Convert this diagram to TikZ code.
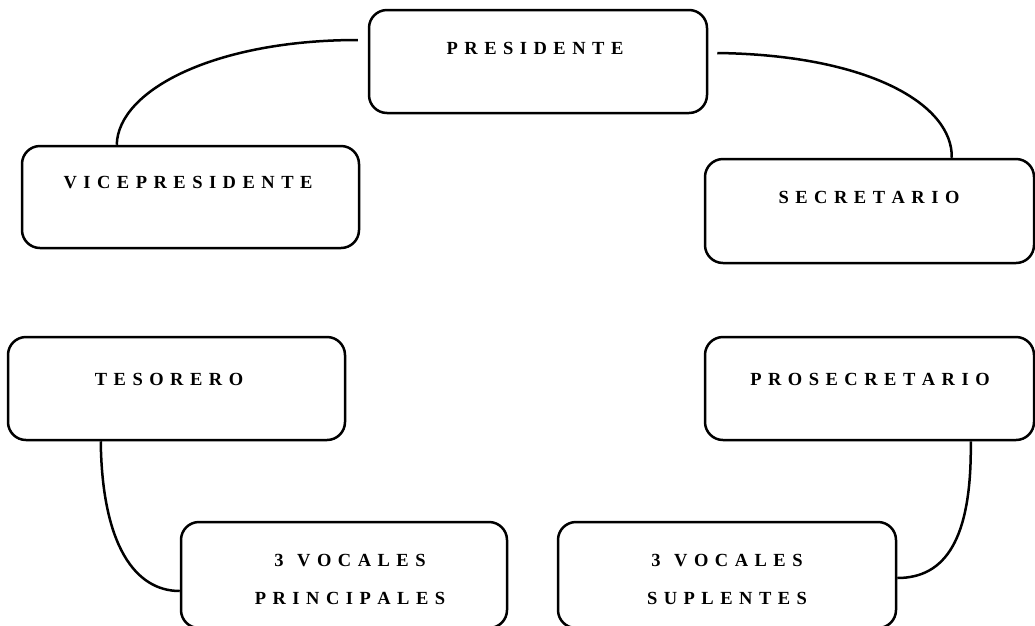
\documentclass[tikz,border=0pt]{standalone}
\usepackage{fontspec}
\setmainfont{Liberation Serif}[Kerning=Off]
\newcommand\lblfont{\bfseries\fontsize{18.5}{38}\selectfont\spaceskip 6.5pt\relax}
\begin{document}
\begin{tikzpicture}[x=1pt,y=-1pt,
  box/.style={draw, line width=2.5pt, rounded corners=18pt, inner sep=0pt, anchor=center},
  lbl/.style={font=\lblfont, inner sep=0pt, anchor=center, align=center},
  link/.style={line width=2.5pt}]
\useasboundingbox (0,0) rectangle (1035,625);
% boxes
\node[box, minimum width=338pt, minimum height=103pt] (pres) at (538,61.5) {};
\node[box, minimum width=337pt, minimum height=102pt] (vice) at (190.5,197) {};
\node[box, minimum width=329pt, minimum height=104pt] (sec) at (869.5,211) {};
\node[box, minimum width=337pt, minimum height=103pt] (tes) at (176.5,388.5) {};
\node[box, minimum width=329pt, minimum height=103pt] (pros) at (869.5,388.5) {};
\node[box, minimum width=326pt, minimum height=106pt] (vp) at (344,575) {};
\node[box, minimum width=338pt, minimum height=106pt] (vs) at (727,575) {};
% labels
\node[lbl] (tpres) at (535,48) {P R E S I D E N T E};
\node[lbl] (tvice) at (188,183) {V I C E P R E S I D E N T E};
\node[lbl] (tsec) at (869,197) {S E C R E T A R I O};
\node[lbl] (ttes) at (169,379) {T E S O R E R O};
\node[lbl] (tpros) at (870,379) {P R O S E C R E T A R I O};
\node[lbl] (tvp) at (350,579) {3\hspace{7pt} V O C A L E S\\P R I N C I P A L E S};
\node[lbl] (tvs) at (727,579) {3\hspace{7pt} V O C A L E S\\S U P L E N T E S};
% connector ends
\coordinate (c1) at ([shift={(-10,-21.5)}]pres.west);
\coordinate (c2) at ([shift={(9,-8.5)}]pres.east);
\coordinate (c3) at ([xshift=96pt]vice.north west);
\coordinate (c4) at ([xshift=248pt]sec.north west);
\coordinate (c5) at ([xshift=94pt]tes.south west);
\coordinate (c6) at ([shift={(0,16)}]vp.west);
\coordinate (c7) at ([xshift=267pt]pros.south west);
\coordinate (c8) at ([shift={(0,3)}]vs.east);
% connectors
\draw[link] (c1) .. controls (215,40) and (118,90) .. (c3);
\draw[link] (c2) .. controls (870,55) and (953,105) .. (c4);
\draw[link] (c5) .. controls (102,545) and (135,591) .. (c6);
\draw[link] (c7) .. controls (972,540) and (945,578) .. (c8);
\end{tikzpicture}
\end{document}
